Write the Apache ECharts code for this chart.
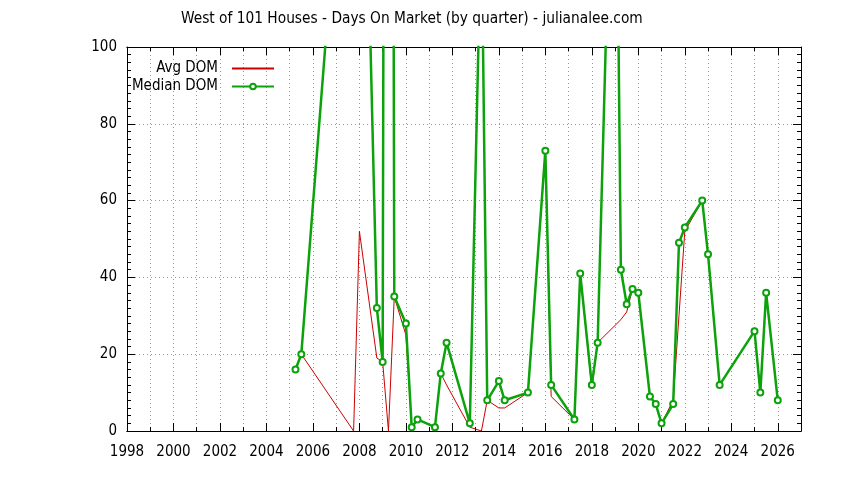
<!DOCTYPE html>
<html><head><meta charset="utf-8">
<script src="https://cdn.jsdelivr.net/npm/echarts@6/dist/echarts.min.js"></script>
<style>html,body{margin:0;padding:0;background:#fff}#c{width:844px;height:480px}</style>
</head><body><div id="c"></div>
<script>
const titleText = 'West of 101 Houses - Days On Market (by quarter) - julianalee.com';
const seriesNames = ['Avg DOM', 'Median DOM'];

const avgQuarters = [2005.25, 2005.5, 2007.75, 2008.0, 2008.75, 2009.0, 2009.25, 2009.5, 2010.0, 2010.25, 2010.5,
  2011.25, 2011.5, 2011.75, 2012.75, 2013.25, 2013.5, 2014.0, 2014.25, 2015.25, 2016.0, 2016.25, 2017.25, 2017.5,
  2018.0, 2018.25, 2019.25, 2019.5, 2019.75, 2020.0, 2020.5, 2020.75, 2021.0, 2021.5, 2021.75, 2022.0, 2022.75,
  2023.0, 2023.5, 2025.0, 2025.25, 2025.5, 2026.0];
const avgDom = [16, 20, 0, 52, 19, 18, 0, 35, 25, 1, 3,
  1, 15, 12, 1, 0, 8, 6, 6, 10, 73, 9, 3, 41,
  11, 23, 29, 31, 37, 36, 9, 7, 2, 8, 30, 52, 60,
  46, 12, 26, 10, 36, 8];

const medianQuarters = [2005.25, 2005.5, 2007.75, 2008.0, 2008.75, 2009.0, 2009.25, 2009.5, 2010.0, 2010.25, 2010.5,
  2011.25, 2011.5, 2011.75, 2012.75, 2013.25, 2013.5, 2014.0, 2014.25, 2015.25, 2016.0, 2016.25, 2017.25, 2017.5,
  2018.0, 2018.25, 2019.0, 2019.25, 2019.5, 2019.75, 2020.0, 2020.5, 2020.75, 2021.0, 2021.5, 2021.75, 2022.0, 2022.75,
  2023.0, 2023.5, 2025.0, 2025.25, 2025.5, 2026.0];
const medianDom = [16, 20, 195, 220, 32, 18, 700, 35, 28, 1, 3,
  1, 15, 23, 2, 135, 8, 13, 8, 10, 73, 12, 3, 41,
  12, 23, 190, 42, 33, 37, 36, 9, 7, 2, 7, 49, 53, 60,
  46, 12, 26, 10, 36, 8];

const xLabelYears = [1998, 2000, 2002, 2004, 2006, 2008, 2010, 2012, 2014, 2016, 2018, 2020, 2022, 2024, 2026];
const yTicks = [0, 20, 40, 60, 80, 100];

const FONT = "'DejaVu Sans Condensed','DejaVu Sans',sans-serif";
const RED = '#cc0000';
const GREEN = '#0ca20c';
const GRIDC = '#999999';

const chart = echarts.init(document.getElementById('c'), null, {renderer: 'canvas'});

function xAxisDef(position, interval, tickLen, showLabel, showSplit) {
  return {
    type: 'value', position: position, min: xLabelYears[0], max: 2027, interval: interval,
    axisLine: {show: true, onZero: false, lineStyle: {color: '#000', width: 1}},
    axisTick: {show: true, inside: true, length: tickLen, lineStyle: {color: '#000', width: 1}},
    axisLabel: {show: showLabel, margin: 14, color: '#000', fontFamily: FONT, fontSize: 15,
      formatter: v => xLabelYears.indexOf(v) >= 0 ? String(v) : ''},
    splitLine: {show: showSplit, lineStyle: {color: GRIDC, type: [1, 3], width: 1}}
  };
}
function yAxisDef(position, showLabel, showSplit) {
  return {
    type: 'value', position: position, min: yTicks[0], max: yTicks[yTicks.length - 1], interval: 20,
    axisLine: {show: true, onZero: false, lineStyle: {color: '#000', width: 1}},
    axisTick: {show: true, inside: true, length: 8, lineStyle: {color: '#000', width: 1}},
    minorTick: {show: true, splitNumber: 10, length: 4, lineStyle: {color: '#000', width: 1}},
    axisLabel: {show: showLabel, margin: 10, color: '#000', fontFamily: FONT, fontSize: 15},
    splitLine: {show: showSplit, lineStyle: {color: GRIDC, type: [1, 3], width: 1}}
  };
}

chart.setOption({
  animation: false,
  backgroundColor: '#fff',
  title: {text: titleText, left: 181, top: 12, padding: 0,
    textStyle: {fontFamily: FONT, fontSize: 15.3, fontWeight: 'normal', color: '#000'}},
  legend: {
    orient: 'vertical', right: 564, top: 56, align: 'right',
    itemWidth: 42, itemHeight: 7, itemGap: 3,
    textStyle: {fontFamily: FONT, fontSize: 15, color: '#000', padding: [0, 9, 0, 0]},
    data: [
      {name: seriesNames[0], itemStyle: {color: 'rgba(0,0,0,0)', borderColor: 'rgba(0,0,0,0)', borderWidth: 0}},
      {name: seriesNames[1]}
    ]
  },
  grid: {left: 127, right: 43, top: 47, bottom: 49, containLabel: false},
  xAxis: [
    xAxisDef('bottom', 1, 4, false, true),
    xAxisDef('bottom', 2, 8, true, false),
    xAxisDef('top', 1, 4, false, false),
    xAxisDef('top', 2, 8, false, false)
  ],
  yAxis: [
    yAxisDef('left', true, true),
    yAxisDef('right', false, false)
  ],
  series: [
    {
      name: seriesNames[0], type: 'line', xAxisIndex: 0, yAxisIndex: 0,
      data: avgQuarters.map((q, i) => [q, avgDom[i]]),
      symbol: 'none', color: RED,
      lineStyle: {color: RED, width: 1}, z: 2
    },
    {
      name: seriesNames[1], type: 'line', xAxisIndex: 0, yAxisIndex: 0,
      data: medianQuarters.map((q, i) => [q, medianDom[i]]),
      symbol: 'emptyCircle', symbolSize: 6, color: GREEN,
      itemStyle: {color: GREEN, borderColor: GREEN, borderWidth: 2},
      lineStyle: {color: GREEN, width: 2.5}, z: 3
    }
  ]
});
</script></body></html>
